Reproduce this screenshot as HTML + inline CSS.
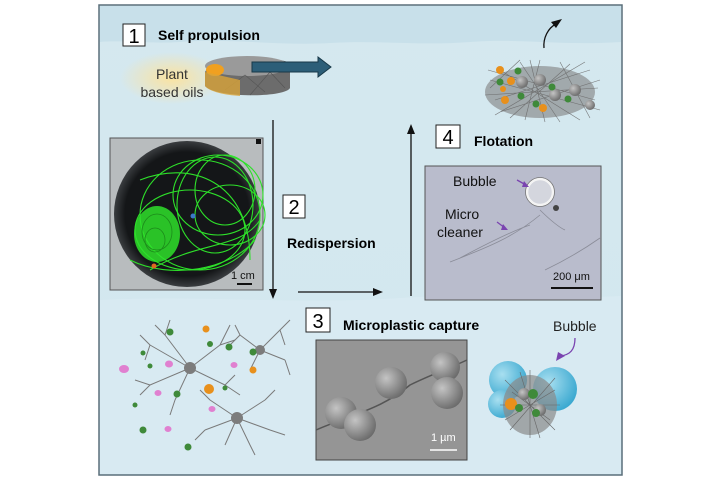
<!DOCTYPE html>
<html><head><meta charset="utf-8"><style>
body{margin:0;background:#fff;width:720px;height:480px;overflow:hidden}
text{font-family:"Liberation Sans",sans-serif}
</style></head><body>
<svg width="720" height="480" viewBox="0 0 720 480" xmlns="http://www.w3.org/2000/svg">
<defs>
<linearGradient id="bg" x1="0" y1="0" x2="0" y2="1">
<stop offset="0" stop-color="#d5e8ef"/><stop offset="1" stop-color="#d2e7ef"/></linearGradient>
<radialGradient id="glow" cx="0.5" cy="0.5" r="0.5"><stop offset="0" stop-color="#fbe3a0"/><stop offset="1" stop-color="#fbe3a0" stop-opacity="0"/></radialGradient>
<radialGradient id="dish" cx="0.5" cy="0.5" r="0.5"><stop offset="0.85" stop-color="#141618"/><stop offset="1" stop-color="#3a3d40"/></radialGradient>
<radialGradient id="sph" cx="0.35" cy="0.35" r="0.7"><stop offset="0" stop-color="#c4c4c4"/><stop offset="1" stop-color="#6a6a6a"/></radialGradient>
<radialGradient id="blue" cx="0.35" cy="0.35" r="0.7"><stop offset="0" stop-color="#a8dff0"/><stop offset="1" stop-color="#3aa8d0"/></radialGradient>
</defs>
<rect x="99" y="5" width="523" height="470" fill="url(#bg)" stroke="#5a6f7a" stroke-width="1.5"/>
<path d="M100 6 H621 V42 C560 46 520 38 470 42 C420 46 380 40 330 43 C280 46 230 38 180 42 C150 44 120 40 100 42 Z" fill="#c8e0ea"/>
<path d="M100 300 C200 295 300 305 400 298 C500 292 560 300 621 296 V474 H100 Z" fill="#dcedf3" opacity="0.6"/>
<!-- 1 -->
<rect x="123" y="24" width="22" height="22" fill="#fff" stroke="#222"/>
<text x="134" y="43" font-size="20" text-anchor="middle">1</text>
<text x="158" y="40" font-size="14" font-weight="bold">Self propulsion</text>
<ellipse cx="172" cy="78" rx="52" ry="26" fill="url(#glow)"/>
<text x="172" y="79" font-size="14" text-anchor="middle" fill="#333">Plant</text>
<text x="172" y="97" font-size="14" text-anchor="middle" fill="#333">based oils</text>
<path d="M205 72 C210 58 285 55 290 64 V88 C285 98 215 98 205 86 Z" fill="#6c6c6c"/>
<ellipse cx="247" cy="66" rx="42" ry="10" fill="#9a9a9a"/>
<g fill="none" stroke="#555" stroke-width="0.6"><path d="M225 90 L245 75 L265 92 M250 95 L270 72 L285 88"/></g>
<ellipse cx="215" cy="70" rx="9" ry="6" fill="#f0a020"/>
<path d="M205 72 V86 C210 92 225 95 240 96 V80 Z" fill="#d9a43a" opacity="0.8"/>
<path d="M252 62 H318 V57 L331 67 L318 77 V72 H252 Z" fill="#2c5e78" stroke="#173848"/>
<!-- top-right cluster -->
<g>
<ellipse cx="540" cy="92" rx="55" ry="26" fill="#7e7e7e" opacity="0.6"/>
<g stroke="#6a6a6a" stroke-width="0.6" opacity="0.9" fill="none">
<path d="M490 80 L600 110 M495 100 L590 70 M500 70 L580 120 M520 62 L560 122 M485 95 L598 88 M510 118 L570 64 M530 60 L545 122 M488 70 L595 100 M495 115 L585 62 M540 60 L525 120 M560 62 L590 118 M490 88 L520 60 M500 112 L600 80"/>
</g>
<circle cx="522" cy="82" r="6" fill="url(#sph)"/><circle cx="555" cy="95" r="6" fill="url(#sph)"/><circle cx="575" cy="90" r="6" fill="url(#sph)"/><circle cx="540" cy="80" r="6" fill="url(#sph)"/><circle cx="590" cy="105" r="5" fill="url(#sph)"/>
<circle cx="500" cy="70" r="4" fill="#e8901c"/><circle cx="511" cy="81" r="4" fill="#e8901c"/><circle cx="503" cy="89" r="3" fill="#e8901c"/><circle cx="505" cy="100" r="4" fill="#e8901c"/><circle cx="543" cy="108" r="4" fill="#e8901c"/>
<circle cx="518" cy="71" r="3.5" fill="#3f8a3a"/><circle cx="500" cy="82" r="3.5" fill="#3f8a3a"/><circle cx="521" cy="96" r="3.5" fill="#3f8a3a"/><circle cx="536" cy="104" r="3.5" fill="#3f8a3a"/><circle cx="552" cy="87" r="3.5" fill="#3f8a3a"/><circle cx="568" cy="99" r="3.5" fill="#3f8a3a"/>
</g>
<path d="M544 48 C543 38 548 28 556 24" fill="none" stroke="#111" stroke-width="1.3"/>
<path d="M551 22 L562 19 L556 28 Z" fill="#111"/>
<!-- photo 1 -->
<rect x="110" y="138" width="153" height="152" fill="#b8bcbe" stroke="#555"/>
<circle cx="187" cy="214" r="73" fill="url(#dish)"/>
<g fill="none" stroke="#2ee02a" stroke-width="1.1">
<ellipse cx="218" cy="195" rx="45" ry="40"/><ellipse cx="215" cy="205" rx="38" ry="48"/><ellipse cx="225" cy="190" rx="30" ry="35"/>
<ellipse cx="200" cy="215" rx="60" ry="55"/><ellipse cx="190" cy="230" rx="55" ry="40"/><ellipse cx="230" cy="215" rx="35" ry="30"/>
<path d="M130 260 C170 280 230 270 255 240 M140 180 C190 160 250 180 250 260 M150 270 C200 240 240 250 260 220"/>
</g>
<ellipse cx="157" cy="234" rx="23" ry="28" fill="#2ee02a" opacity="0.85"/>
<g fill="none" stroke="#1c8a1a" stroke-width="0.8"><ellipse cx="157" cy="232" rx="15" ry="18"/><ellipse cx="155" cy="240" rx="10" ry="12"/></g>
<circle cx="193" cy="216" r="2.5" fill="#3b78c8"/><circle cx="154" cy="266" r="2.5" fill="#e06820"/>
<rect x="256" y="139" width="5" height="5" fill="#111"/>
<text x="231" y="279" font-size="11" fill="#111">1 cm</text>
<line x1="237" y1="284" x2="252" y2="284" stroke="#111" stroke-width="2"/>
<!-- arrows -->
<line x1="273" y1="120" x2="273" y2="290" stroke="#111" stroke-width="1.3"/>
<path d="M269 289 L277 289 L273 299 Z" fill="#111"/>
<rect x="283" y="195" width="22" height="23" fill="#fff" stroke="#222"/>
<text x="294" y="214" font-size="20" text-anchor="middle">2</text>
<text x="287" y="248" font-size="14" font-weight="bold">Redispersion</text>
<line x1="298" y1="292" x2="374" y2="292" stroke="#111" stroke-width="1.3"/>
<path d="M373 288 L383 292 L373 296 Z" fill="#111"/>
<line x1="411" y1="296" x2="411" y2="133" stroke="#111" stroke-width="1.3"/>
<path d="M407 134 L415 134 L411 124 Z" fill="#111"/>
<rect x="436" y="125" width="24" height="23" fill="#fff" stroke="#222"/>
<text x="448" y="144" font-size="20" text-anchor="middle">4</text>
<text x="474" y="146" font-size="14" font-weight="bold">Flotation</text>
<!-- photo 4 -->
<rect x="425" y="166" width="176" height="134" fill="#b9bccc" stroke="#555"/>
<g fill="none" stroke="#8a8c98" stroke-width="0.8">
<path d="M450 262 C480 250 510 240 540 215 M460 258 C490 242 515 230 530 225 M540 210 C550 220 560 228 565 230 M545 270 C570 258 590 245 600 238"/>
</g>
<circle cx="540" cy="192" r="13" fill="#d4d6de" stroke="#f4f4f4" stroke-width="2.5"/>
<circle cx="540" cy="192" r="14.5" fill="none" stroke="#777" stroke-width="0.8"/>
<circle cx="556" cy="208" r="3" fill="#444"/>
<text x="453" y="186" font-size="14" fill="#111">Bubble</text>
<path d="M517 180 L526 185" stroke="#7a44b0" stroke-width="1.3"/><path d="M524 181 L529 187 L522 187 Z" fill="#7a44b0"/>
<text x="445" y="219" font-size="14" fill="#111">Micro</text>
<text x="437" y="237" font-size="14" fill="#111">cleaner</text>
<path d="M497 222 L505 228" stroke="#7a44b0" stroke-width="1.3"/><path d="M503 224 L508 230 L501 230 Z" fill="#7a44b0"/>
<text x="553" y="280" font-size="11" fill="#111">200 μm</text>
<line x1="551" y1="288" x2="593" y2="288" stroke="#111" stroke-width="2"/>
<!-- 3 -->
<rect x="306" y="308" width="24" height="24" fill="#fff" stroke="#222"/>
<text x="318" y="328" font-size="20" text-anchor="middle">3</text>
<text x="343" y="330" font-size="14" font-weight="bold">Microplastic capture</text>
<rect x="316" y="340" width="151" height="120" fill="#959595" stroke="#444"/>
<path d="M316 430 C350 415 380 410 410 385 C430 375 450 368 467 360" fill="none" stroke="#555" stroke-width="1.5"/>
<circle cx="341" cy="413" r="16" fill="url(#sph)"/><circle cx="360" cy="425" r="16" fill="url(#sph)"/>
<circle cx="391" cy="383" r="16" fill="url(#sph)"/><circle cx="445" cy="367" r="15" fill="url(#sph)"/><circle cx="447" cy="393" r="16" fill="url(#sph)"/>
<text x="431" y="441" font-size="11" fill="#fff">1 µm</text>
<line x1="430" y1="450" x2="457" y2="450" stroke="#fff" stroke-width="1.5"/>
<!-- bubble cluster -->
<text x="553" y="331" font-size="14" fill="#222">Bubble</text>
<path d="M575 338 C575 350 570 355 560 356" fill="none" stroke="#7a44b0" stroke-width="1.3"/>
<path d="M558 352 L556 361 L565 356 Z" fill="#7a44b0"/>
<circle cx="508" cy="380" r="19" fill="url(#blue)"/><circle cx="555" cy="389" r="22" fill="url(#blue)"/><circle cx="502" cy="404" r="14" fill="url(#blue)"/>
<ellipse cx="530" cy="405" rx="27" ry="30" fill="#8a8a8a" opacity="0.7"/>
<g stroke="#666" stroke-width="0.6" fill="none"><path d="M505 380 L555 430 M510 430 L555 378 M530 370 L530 438 M500 405 L560 405 M512 392 L550 420 M505 420 L555 390 M520 372 L540 438"/></g>
<circle cx="524" cy="394" r="6" fill="url(#sph)"/><circle cx="540" cy="410" r="6" fill="url(#sph)"/>
<circle cx="511" cy="404" r="6" fill="#e8901c"/><circle cx="533" cy="394" r="5" fill="#3f8a3a"/><circle cx="519" cy="408" r="4" fill="#3f8a3a"/><circle cx="536" cy="413" r="4" fill="#3f8a3a"/>
<!-- dendrites -->
<g fill="none" stroke="#7a7a7a" stroke-width="1">
<path d="M190 368 L150 345 M190 368 L165 335 M190 368 L150 385 M190 368 L175 400 M190 368 L220 345 M190 368 L225 385 M150 345 L140 335 M150 345 L145 360 M165 335 L170 320 M150 385 L140 395 M175 400 L170 415 M220 345 L230 325 M225 385 L240 395 M165 335 L155 325 M220 345 L235 340 M150 385 L135 380 M225 385 L235 375"/>
<path d="M260 350 L240 335 M260 350 L280 330 M260 350 L285 360 M260 350 L250 370 M240 335 L235 325 M280 330 L290 320 M285 360 L290 375 M240 335 L230 345 M280 330 L285 345"/>
<path d="M237 418 L210 400 M237 418 L265 400 M237 418 L270 430 M237 418 L225 445 M237 418 L205 430 M237 418 L250 445 M210 400 L200 390 M265 400 L275 390 M205 430 L195 440 M270 430 L285 435 M250 445 L255 455"/>
</g>
<g fill="#7c7c7c"><circle cx="190" cy="368" r="6"/><circle cx="260" cy="350" r="5"/><circle cx="237" cy="418" r="6"/></g>
<g fill="#3f8a3a"><circle cx="170" cy="332" r="3.5"/><circle cx="143" cy="353" r="2.5"/><circle cx="150" cy="366" r="2.5"/><circle cx="210" cy="344" r="3"/><circle cx="229" cy="347" r="3.5"/><circle cx="253" cy="352" r="3.5"/><circle cx="177" cy="394" r="3.5"/><circle cx="225" cy="388" r="2.5"/><circle cx="135" cy="405" r="2.5"/><circle cx="143" cy="430" r="3.5"/><circle cx="188" cy="447" r="3.5"/></g>
<g fill="#e8901c"><circle cx="206" cy="329" r="3.5"/><circle cx="253" cy="370" r="3.5"/><circle cx="209" cy="389" r="5"/></g>
<g fill="#e080d0"><ellipse cx="124" cy="369" rx="5" ry="4"/><ellipse cx="169" cy="364" rx="4" ry="3.5"/><ellipse cx="234" cy="365" rx="3.5" ry="3"/><ellipse cx="158" cy="393" rx="3.5" ry="3"/><ellipse cx="212" cy="409" rx="3.5" ry="3"/><ellipse cx="168" cy="429" rx="3.5" ry="3"/></g>
</svg>
</body></html>
